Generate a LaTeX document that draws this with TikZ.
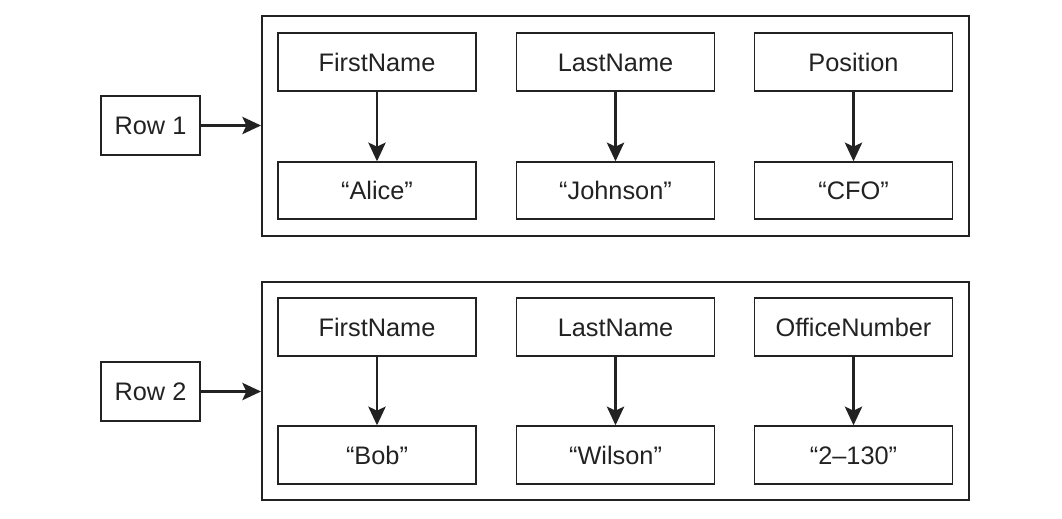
\documentclass[tikz,border=0pt]{standalone}
\usepackage{fontspec}
\setmainfont{Liberation Sans}
\usetikzlibrary{arrows.meta}
\definecolor{ink}{HTML}{222222}
\tikzset{
  cell/.style={draw=ink, line width=1.1pt, rectangle, inner sep=0pt,
    minimum width=148.5pt, minimum height=43.5pt,
    text height=13.6pt, text depth=0pt, text=ink,
    font=\fontsize{19}{22}\selectfont},
  rowlabel/.style={cell, minimum width=74.25pt, minimum height=44.25pt},
  frame/.style={draw=ink, line width=1.5pt, rectangle, inner sep=0pt, minimum width=530.25pt},
  arr/.style={draw=ink, line width=1.8pt, -{Stealth[length=14pt, width=13pt, inset=3pt]}}
}
\begin{document}
\begin{tikzpicture}[x=0.75pt,y=-0.75pt]
\useasboundingbox (0,0) rectangle (1062,518);
% frames
\node[frame, minimum height=165pt] (o1) at (615.5,126) {};
\node[frame, minimum height=163.5pt] (o2) at (615.5,391) {};
% row labels
\node[rowlabel] (r1) at (150.5,125.5) {Row 1};
\node[rowlabel] (r2) at (150.5,391.5) {Row 2};
% row 1
\node[cell] (a1) at (377,62) {FirstName};
\node[cell] (b1) at (615.5,62) {LastName};
\node[cell] (c1) at (853.5,62) {Position};
\node[cell, minimum height=42.75pt] (a1v) at (377,190.5) {“Alice”};
\node[cell, minimum height=42.75pt] (b1v) at (615.5,190.5) {“Johnson”};
\node[cell, minimum height=42.75pt] (c1v) at (853.5,190.5) {“CFO”};
% row 2
\node[cell] (a2) at (377,327) {FirstName};
\node[cell] (b2) at (615.5,327) {LastName};
\node[cell] (c2) at (853.5,327) {OfficeNumber};
\node[cell] (a2v) at (377,455) {“Bob”};
\node[cell] (b2v) at (615.5,455) {“Wilson”};
\node[cell] (c2v) at (853.5,455) {“2–130”};
% connectors
\draw[arr] (r1.east) -- (r1.east -| o1.west);
\draw[arr] (r2.east) -- (r2.east -| o2.west);
\foreach \n in {a1,b1,c1,a2,b2,c2}
  \draw[arr] (\n.south) -- (\n v.north);
\end{tikzpicture}
\end{document}
